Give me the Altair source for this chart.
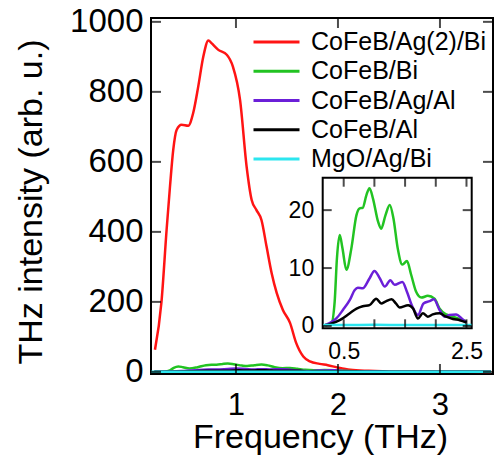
import altair as alt
import pandas as pd

series_names = ["CoFeB/Ag(2)/Bi", "CoFeB/Bi", "CoFeB/Ag/Al", "CoFeB/Al", "MgO/Ag/Bi"]
series_colors = ["#ff1414", "#22c322", "#6b1fd8", "#000000", "#2ce6ef"]

red_f = [0.206, 0.27, 0.32, 0.353, 0.385, 0.418, 0.467, 0.532, 0.58, 0.63, 0.68, 0.73, 0.76,
         0.827, 0.91, 0.97, 1.04, 1.105, 1.154, 1.20, 1.25, 1.30, 1.35, 1.40, 1.46, 1.53, 1.59,
         1.66, 1.725, 1.82, 1.90, 1.99, 2.12, 2.30, 2.60, 3.00, 3.50]
red_v = [63, 201, 406, 529, 634, 691, 706, 703, 739, 815, 901, 947, 939,
         920, 906, 872, 777, 585, 491, 463, 434, 358, 282, 225, 177, 140, 83,
         44, 30, 23, 19, 13, 6, 3, 1, 0.5, 0]

green_f = [0.2, 0.30, 0.353, 0.39, 0.435, 0.48, 0.544, 0.625, 0.707, 0.76, 0.81, 0.87, 0.92,
           0.977, 1.06, 1.11, 1.18, 1.25, 1.31, 1.38, 1.456, 1.53, 1.60, 1.68, 1.765, 1.87,
           1.98, 2.06, 2.17, 2.28, 2.39, 2.5, 2.6, 3.0, 3.5]
green_v = [0.2, 0.5, 4.2, 11.7, 15.7, 13.4, 9.7, 13.4, 19.1, 20.3, 20.4, 22.6, 23.8,
           22.0, 18.0, 16.8, 19.1, 20.9, 18.6, 13.4, 10.6, 11.2, 8.8, 5.9, 4.9, 5.2,
           4.7, 3.05, 2.0, 1.6, 1.2, 0.75, 0.5, 0.3, 0.2]

purple_f = [0.2, 0.27, 0.38, 0.49, 0.6, 0.68, 0.73, 0.81, 0.92, 1.0, 1.09, 1.17, 1.26, 1.33,
            1.456, 1.53, 1.62, 1.71, 1.80, 1.90, 1.97, 2.06, 2.15, 2.22, 2.33, 2.43, 2.5,
            2.6, 3.0, 3.5]
purple_v = [0.2, 0.5, 1.3, 2.8, 4.5, 6.2, 6.6, 6.5, 8.2, 9.5, 8.2, 6.8, 7.9, 7.1,
            7.6, 5.9, 3.3, 1.9, 3.9, 4.3, 4.6, 2.8, 1.6, 1.9, 2.0, 1.2, 0.6,
            0.4, 0.2, 0.1]

black_f = [0.2, 0.27, 0.435, 0.6, 0.71, 0.81, 0.92, 1.03, 1.11, 1.18, 1.28, 1.35, 1.41, 1.55,
           1.63, 1.71, 1.79, 1.87, 1.95, 2.06, 2.17, 2.28, 2.39, 2.5, 2.6, 3.0, 3.5]
black_v = [0.1, 0.3, 1.0, 2.2, 3.0, 3.4, 3.6, 4.7, 3.9, 4.2, 4.6, 3.9, 3.2, 3.6,
           3.0, 1.3, 2.2, 1.6, 2.0, 2.2, 1.6, 1.2, 1.0, 0.6, 0.4, 0.2, 0.1]

cyan_f = [0.17, 0.5, 1.0, 1.5, 2.0, 2.5, 2.58, 3.0, 3.5]
cyan_v = [0.15, 0.15, 0.2, 0.15, 0.15, 0.15, 0.15, 0.1, 0.1]

main_x_ticks = [1, 2, 3]
main_y_ticks = [0, 200, 400, 600, 800, 1000]
inset_x_ticks = [0.5, 1.0, 1.5, 2.0, 2.5]
inset_x_labelled = [0.5, 2.5]
inset_y_ticks = [0, 10, 20]

main_x_dom = [0.167, 3.52]
main_y_dom = [-6, 1011]
inset_x_dom = [0.158, 2.585]
inset_y_dom = [-0.4, 25.6]

# ---------------- layout (pixels) ----------------
W, H = 342, 356
inset_x_rng = [171.7, 320.7]
inset_y_rng = [310.3, 159.7]
MT = 10   # main tick length (inward)
IT = 9    # inset tick length (inward)
FONT = "Liberation Sans"

frames = []
for name, fs, vs in zip(series_names,
                        [red_f, green_f, purple_f, black_f, cyan_f],
                        [red_v, green_v, purple_v, black_v, cyan_v]):
    frames.append(pd.DataFrame({"series": name, "f": fs, "v": vs}))
df = pd.concat(frames, ignore_index=True)
df_inset = df[(df["series"] != series_names[0]) & (df["f"] <= inset_x_dom[1])]

box = pd.DataFrame({"x0": [inset_x_dom[0]], "x1": [inset_x_dom[1]],
                    "y0": [inset_y_dom[0]], "y1": [inset_y_dom[1]]})


def sc(dom, rng=None):
    if rng is None:
        return alt.Scale(domain=dom, nice=False, zero=False)
    return alt.Scale(domain=dom, range=rng, nice=False, zero=False)


mx = lambda: sc(main_x_dom)
my = lambda: sc(main_y_dom)
ix = lambda: sc(inset_x_dom, inset_x_rng)
iy = lambda: sc(inset_y_dom, inset_y_rng)

NOAX = dict(ticks=False, domain=False, grid=False)

color = alt.Color(
    "series:N",
    scale=alt.Scale(domain=series_names, range=series_colors),
    legend=alt.Legend(
        orient="none", legendX=101, legendY=10.5, title=None, padding=0,
        symbolType="stroke", symbolSize=2116, symbolStrokeWidth=3,
        labelFont=FONT, labelFontSize=25, labelColor="black", labelOffset=10,
        labelLimit=300, clipHeight=27, rowPadding=2.25,
    ),
)

main_lines = alt.Chart(df).mark_line(strokeWidth=2.5, interpolate="monotone", clip=True).encode(
    x=alt.X("f:Q", scale=mx(),
            axis=alt.Axis(orient="bottom", values=main_x_ticks, format="d",
                          labelPadding=16, labelFontSize=31,
                          title="Frequency (THz)", titleX=169, titleY=73,
                          titleAlign="center", titleBaseline="alphabetic", **NOAX)),
    y=alt.Y("v:Q", scale=my(),
            axis=alt.Axis(orient="left", values=main_y_ticks, format="d",
                          labelPadding=8, labelFontSize=33,
                          title="THz intensity (arb. u.)", titleX=-109.5, titleY=183.5,
                          titleAngle=270, titleAlign="center", titleBaseline="alphabetic",
                          **NOAX)),
    color=color,
    order=alt.Order("f:Q"),
)


def edge_ticks(values, xscale, yscale, vertical, anchor, length, shift):
    """Inward tick marks along one edge: tick values on one scale, edge = domain end."""
    d = pd.DataFrame({"t": values})
    if vertical:
        return alt.Chart(d).mark_tick(orient="vertical", size=length, thickness=2,
                                      color="black", yOffset=shift).encode(
            x=alt.X("t:Q", scale=xscale, axis=None),
            y=alt.YDatum(anchor, type="quantitative", scale=yscale, axis=None),
        )
    return alt.Chart(d).mark_tick(orient="horizontal", size=length, thickness=2,
                                  color="black", xOffset=shift).encode(
        x=alt.XDatum(anchor, type="quantitative", scale=xscale, axis=None),
        y=alt.Y("t:Q", scale=yscale, axis=None),
    )


main_ticks = [
    edge_ticks(main_x_ticks, mx(), my(), True, main_y_dom[0], MT, -MT / 2),
    edge_ticks(main_x_ticks, mx(), my(), True, main_y_dom[1], MT, MT / 2),
    edge_ticks(main_y_ticks, mx(), my(), False, main_x_dom[0], MT, MT / 2),
    edge_ticks(main_y_ticks, mx(), my(), False, main_x_dom[1], MT, -MT / 2),
]

inset_box = alt.Chart(box).mark_rect(fill="white", stroke="black", strokeWidth=2).encode(
    x=alt.X("x0:Q", scale=ix(), axis=None),
    x2="x1:Q",
    y=alt.Y("y0:Q", scale=iy(), axis=None),
    y2="y1:Q",
)

inset_lines = alt.Chart(df_inset).mark_line(strokeWidth=2.5, interpolate="monotone").encode(
    x=alt.X("f:Q", scale=ix(),
            axis=alt.Axis(orient="bottom", values=inset_x_ticks, format=".1f",
                          offset=-(H - inset_y_rng[0]), labelPadding=12,
                          labelFontSize=23, labelFlush=False, labelOverlap=False,
                          labelExpr="indexof([" + ",".join(str(v) for v in inset_x_labelled)
                                    + "], datum.value) >= 0 ? datum.label : ''",
                          title=None, **NOAX)),
    y=alt.Y("v:Q", scale=iy(),
            axis=alt.Axis(orient="left", values=inset_y_ticks, format="d",
                          offset=-inset_x_rng[0], labelPadding=9,
                          labelFontSize=23, labelFlush=False, labelOverlap=False, title=None,
                          **NOAX)),
    color=alt.Color("series:N", scale=alt.Scale(domain=series_names, range=series_colors),
                    legend=None),
    order=alt.Order("f:Q"),
)

inset_ticks = [
    edge_ticks(inset_x_ticks, ix(), iy(), True, inset_y_dom[0], IT, -IT / 2),
    edge_ticks(inset_x_ticks, ix(), iy(), True, inset_y_dom[1], IT, IT / 2),
    edge_ticks(inset_y_ticks, ix(), iy(), False, inset_x_dom[0], IT, IT / 2),
    edge_ticks(inset_y_ticks, ix(), iy(), False, inset_x_dom[1], IT, -IT / 2),
]

chart = alt.layer(
    main_lines, *main_ticks, inset_box, inset_lines, *inset_ticks
).resolve_scale(
    x="independent", y="independent"
).resolve_axis(
    x="independent", y="independent"
).properties(
    width=W, height=H,
    autosize=alt.AutoSizeParams(type="none"),
    padding={"left": 151, "top": 18, "right": 2, "bottom": 85},
    background="white",
).configure_view(
    stroke="black", strokeWidth=2
).configure_axis(
    labelFont=FONT, labelColor="black", titleFont=FONT, titleFontSize=34,
    titleFontWeight="normal", titleColor="black",
)

chart.save("out.html", embed_options={"renderer": "svg", "actions": False})
